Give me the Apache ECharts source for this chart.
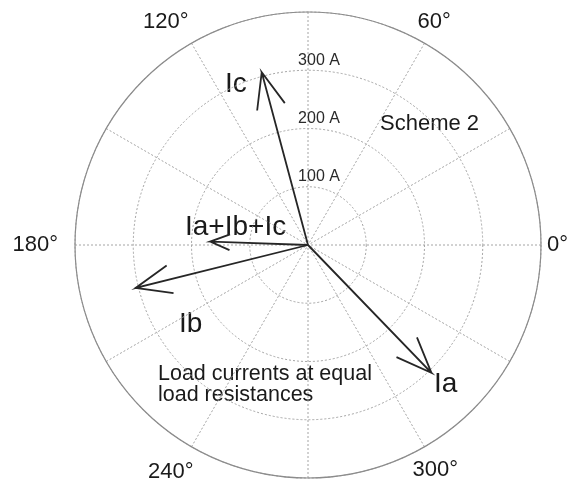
<!DOCTYPE html>
<html><head><meta charset="utf-8">
<script src="https://cdn.jsdelivr.net/npm/echarts@6/dist/echarts.min.js"></script>
<style>html,body{margin:0;padding:0;background:#fff}#c{width:567px;height:481px}</style>
</head><body><div id="c"></div>
<script>
// ---- data ----
const vectorNames = ['Ia', 'Ib', 'Ic', 'Ia+Ib+Ic'];
const magnitudes = [305, 305, 307, 168];      // A
const anglesDeg = [314, 194, 105, 178];       // degrees
const angleTickLabels = [0, 60, 120, 180, 240, 300];
const radiusTickLabels = [100, 200, 300];
const radiusUnit = 'A';

const FONT = '"Liberation Sans", Arial, sans-serif';
const CENTER = [308, 245];
const RADIUS = 233;

const chart = echarts.init(document.getElementById('c'), null, {renderer: 'canvas'});

const dotted = {color: '#a4a4a4', width: 1, type: [2, 2]};
const degStyle = {fontSize: 22, color: '#1a1a1a', fontFamily: FONT};
const degRich = {
  a0: Object.assign({padding: [0, 0, 0, 0]}, degStyle),
  a60: Object.assign({padding: [0, 0, 5, -10]}, degStyle),
  a120: Object.assign({padding: [0, 0, 5, 0]}, degStyle),
  a180: Object.assign({padding: [0, 11, 0, 0]}, degStyle),
  a240: Object.assign({padding: [9, -5, 0, 0]}, degStyle),
  a300: Object.assign({padding: [7, 0, 0, -15]}, degStyle)
};

chart.setOption({
  animation: false,
  backgroundColor: '#fff',
  polar: [
    {center: CENTER, radius: RADIUS},
    {center: CENTER, radius: RADIUS}
  ],
  angleAxis: [
    {
      polarIndex: 0, type: 'value', min: 0, max: 360, interval: 30,
      startAngle: 0, clockwise: false,
      axisLine: {lineStyle: {color: '#8c8c8c', width: 1.2}},
      axisTick: {show: false},
      splitLine: {lineStyle: dotted},
      axisLabel: {
        margin: 6, fontSize: 22, color: '#1a1a1a', fontFamily: FONT,
        rich: degRich,
        formatter: v => angleTickLabels.includes(v) ? '{a' + v + '|' + v + '°}' : ''
      }
    },
    {polarIndex: 1, type: 'value', min: 0, max: 360, startAngle: 90, show: false}
  ],
  radiusAxis: [
    {
      polarIndex: 0, type: 'value', min: 0, max: 400, interval: 100,
      axisLine: {show: false}, axisTick: {show: false}, axisLabel: {show: false},
      splitLine: {lineStyle: dotted}
    },
    {
      polarIndex: 1, type: 'value', min: 0, max: 400, interval: 100,
      axisLine: {show: false}, axisTick: {show: false}, splitLine: {show: false},
      axisLabel: {
        margin: 0, align: 'center', verticalAlign: 'bottom', padding: [0, 0, 2, 22],
        fontSize: 16, color: '#2a2a2a', fontFamily: FONT,
        formatter: v => radiusTickLabels.includes(v) ? v + ' ' + radiusUnit : ''
      }
    }
  ],
  series: [{
    type: 'custom',
    coordinateSystem: 'polar',
    polarIndex: 0,
    silent: true,
    encode: {radius: 0, angle: 1},
    data: vectorNames.map((n, i) => ({name: n, value: [magnitudes[i], anglesDeg[i]]})),
    renderItem: function (params, api) {
      const r = api.value(0), a = api.value(1);
      const o = api.coord([0, a]);
      const t = api.coord([r, a]);
      const dx = t[0] - o[0], dy = t[1] - o[1];
      // compass-style open arrow head: back 0.2 L, lateral 0.08 L
      const bx = t[0] - 0.2 * dx, by = t[1] - 0.2 * dy;
      const px = -dy * 0.08, py = dx * 0.08;
      const b1 = [bx + px, by + py], b2 = [bx - px, by - py];
      return {
        type: 'polyline',
        shape: {points: [o, t, b1, t, b2]},
        style: {stroke: '#262626', lineWidth: 1.8, fill: 'none'}
      };
    }
  }],
  graphic: [
    {type: 'text', left: 225, top: 70, style: {text: 'Ic', font: '28px ' + FONT, fill: '#1a1a1a'}},
    {type: 'text', left: 185, top: 213, style: {text: 'Ia+Ib+Ic', font: '28px ' + FONT, fill: '#1a1a1a'}},
    {type: 'text', left: 179, top: 310, style: {text: 'Ib', font: '28px ' + FONT, fill: '#1a1a1a'}},
    {type: 'text', left: 434, top: 370, style: {text: 'Ia', font: '28px ' + FONT, fill: '#1a1a1a'}},
    {type: 'text', left: 380, top: 113, style: {text: 'Scheme 2', font: '22px ' + FONT, fill: '#1a1a1a'}},
    {type: 'text', left: 158, top: 363, style: {text: 'Load currents at equal\nload resistances', font: '21.5px ' + FONT, lineHeight: 21, fill: '#1a1a1a'}}
  ]
});
</script>
</body></html>
